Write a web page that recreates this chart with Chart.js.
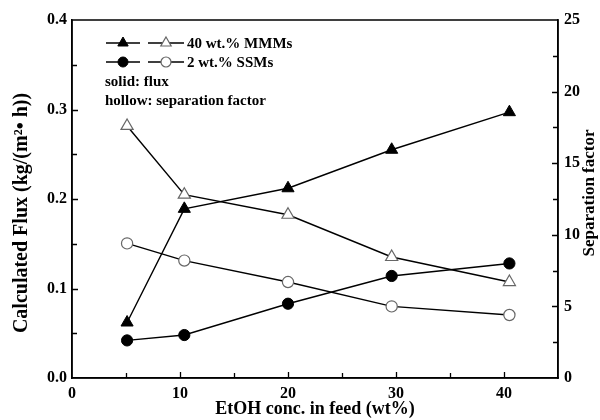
<!DOCTYPE html>
<html>
<head>
<meta charset="utf-8">
<script src="https://cdn.jsdelivr.net/npm/chart.js@4"></script>
<style>
  html, body { margin: 0; padding: 0; background: #fff; }
  #wrap { width: 600px; height: 420px; position: relative; }
</style>
</head>
<body>
<div id="wrap"><canvas id="c" width="600" height="420"></canvas></div>
<script>
// ---- data ----
const feedConc = [5.1, 10.4, 20, 29.6, 40.5];          // EtOH conc. in feed (wt%)
const fluxMMM  = [0.062, 0.189, 0.212, 0.255, 0.297];  // 40 wt.% MMMs flux
const fluxSSM  = [0.042, 0.048, 0.083, 0.114, 0.128];  // 2 wt.% SSMs flux
const sepMMM   = [17.6, 12.8, 11.4, 8.45, 6.7];        // 40 wt.% MMMs separation factor
const sepSSM   = [9.4, 8.2, 6.7, 5.0, 4.4];            // 2 wt.% SSMs separation factor
const seriesNames = ['40 wt.% MMMs', '2 wt.% SSMs'];
const noteLines = ['solid: flux', 'hollow: separation factor'];
const xTitle = 'EtOH conc. in feed (wt%)';
const yTitle = 'Calculated Flux (kg/(m\u00B2\u2022 h))';
const y2Title = 'Separation factor';

const FONT = '"Liberation Serif", "Times New Roman", serif';
const pts = (ys) => feedConc.map((x, i) => ({ x: x, y: ys[i] }));

function mk(label, ys, axis, style, filled) {
  return {
    label: label,
    data: pts(ys),
    yAxisID: axis,
    borderColor: '#000',
    borderWidth: 1.4,
    pointStyle: style,
    pointRadius: style === 'triangle' ? 7 : 5.6,
    pointBorderWidth: filled ? 1 : 1.2,
    pointBackgroundColor: filled ? '#000' : '#fff',
    pointBorderColor: filled ? '#000' : '#666',
    tension: 0,
    fill: false
  };
}

const decor = {
  id: 'decor',
  afterDraw(chart) {
    const ctx = chart.ctx;
    const a = chart.chartArea;
    const sx = chart.scales.x, sy = chart.scales.y, sy2 = chart.scales.y2;
    ctx.save();
    ctx.strokeStyle = '#000';
    ctx.lineWidth = 1.5;
    ctx.strokeRect(a.left, a.top, a.right - a.left, a.bottom - a.top);

    // inward tick marks (major + minor halfway)
    ctx.lineWidth = 1.3;
    const majL = 6, minL = 5;
    function vals(scale) {
      const t = scale.ticks.map(k => k.value);
      const out = [];
      for (let i = 0; i < t.length; i++) {
        out.push([t[i], majL]);
        if (i < t.length - 1) out.push([(t[i] + t[i + 1]) / 2, minL]);
      }
      return out;
    }
    ctx.beginPath();
    vals(sx).forEach(([v, L]) => {
      const p = Math.round(sx.getPixelForValue(v)) + 0.5;
      if (p <= a.left + 1 || p >= a.right - 1) return;
      ctx.moveTo(p, a.bottom); ctx.lineTo(p, a.bottom - L);
    });
    vals(sy).forEach(([v, L]) => {
      const p = Math.round(sy.getPixelForValue(v)) + 0.5;
      if (p <= a.top + 1 || p >= a.bottom - 1) return;
      ctx.moveTo(a.left, p); ctx.lineTo(a.left + L, p);
    });
    vals(sy2).forEach(([v, L]) => {
      const p = Math.round(sy2.getPixelForValue(v)) + 0.5;
      if (p <= a.top + 1 || p >= a.bottom - 1) return;
      ctx.moveTo(a.right, p); ctx.lineTo(a.right - L, p);
    });
    ctx.stroke();

    // axis titles
    ctx.fillStyle = '#000';
    ctx.textAlign = 'center';
    ctx.textBaseline = 'middle';
    ctx.font = 'bold 18px ' + FONT;
    ctx.fillText(xTitle, (a.left + a.right) / 2, 409);
    ctx.save();
    ctx.translate(22, 213);
    ctx.rotate(-Math.PI / 2);
    ctx.font = 'bold 20px ' + FONT;
    ctx.fillText(yTitle, 0, 0);
    ctx.restore();
    ctx.save();
    ctx.translate(590, 193);
    ctx.rotate(-Math.PI / 2);
    ctx.font = 'bold 17px ' + FONT;
    ctx.fillText(y2Title, 0, 0);
    ctx.restore();

    // legend
    const helpers = Chart.helpers;
    const rows = [
      { y: 43, style: 'triangle', r: 6 },
      { y: 62, style: 'circle', r: 5 }
    ];
    rows.forEach((row, i) => {
      ctx.lineWidth = 1.5;
      ctx.strokeStyle = '#000';
      ctx.beginPath();
      ctx.moveTo(106, row.y); ctx.lineTo(140, row.y);
      ctx.moveTo(148, row.y); ctx.lineTo(184, row.y);
      ctx.stroke();
      ctx.fillStyle = '#000';
      ctx.strokeStyle = '#000';
      ctx.lineWidth = 1;
      helpers.drawPoint(ctx, { pointStyle: row.style, radius: row.r, borderWidth: 1, rotation: 0 }, 123, row.y);
      ctx.fillStyle = '#fff';
      ctx.strokeStyle = '#666';
      ctx.lineWidth = 1.2;
      helpers.drawPoint(ctx, { pointStyle: row.style, radius: row.r, borderWidth: 1.2, rotation: 0 }, 166, row.y);
      ctx.fillStyle = '#000';
      ctx.textAlign = 'left';
      ctx.textBaseline = 'middle';
      ctx.font = 'bold 15px ' + FONT;
      ctx.fillText(seriesNames[i], 187, row.y + 1);
    });
    ctx.font = 'bold 15px ' + FONT;
    ctx.fillText(noteLines[0], 105, 82);
    ctx.fillText(noteLines[1], 105, 101);
    ctx.restore();
  }
};

const tickFont = { family: FONT, size: 16, weight: 'bold' };

new Chart(document.getElementById('c'), {
  type: 'line',
  data: {
    datasets: [
      mk(seriesNames[0] + ' flux', fluxMMM, 'y', 'triangle', true),
      mk(seriesNames[1] + ' flux', fluxSSM, 'y', 'circle', true),
      mk(seriesNames[0] + ' separation factor', sepMMM, 'y2', 'triangle', false),
      mk(seriesNames[1] + ' separation factor', sepSSM, 'y2', 'circle', false)
    ]
  },
  options: {
    responsive: false,
    animation: false,
    devicePixelRatio: 1,
    layout: { padding: { top: 20, left: 0, right: 0, bottom: 0 } },
    plugins: { legend: { display: false }, tooltip: { enabled: false } },
    scales: {
      x: {
        type: 'linear', min: 0, max: 45,
        grid: { display: false, drawTicks: false },
        border: { display: true, color: '#000', width: 1.5 },
        ticks: { stepSize: 10, font: tickFont, color: '#000', padding: 6, maxRotation: 0 },
        afterBuildTicks: (s) => { s.ticks = s.ticks.filter(t => t.value % 10 === 0); },
        afterFit: (s) => { s.height = 42; }
      },
      y: {
        type: 'linear', position: 'left', min: 0, max: 0.4,
        grid: { display: false, drawTicks: false },
        border: { display: true, color: '#000', width: 1.5 },
        ticks: { stepSize: 0.1, font: tickFont, color: '#000', padding: 5,
                 callback: (v) => Number(v).toFixed(1) },
        afterFit: (s) => { s.width = 72; }
      },
      y2: {
        type: 'linear', position: 'right', min: 0, max: 25,
        grid: { display: false, drawTicks: false },
        border: { display: true, color: '#000', width: 1.5 },
        ticks: { stepSize: 5, font: tickFont, color: '#000', padding: 6 },
        afterFit: (s) => { s.width = 42; }
      }
    }
  },
  plugins: [decor]
});
</script>
</body>
</html>
